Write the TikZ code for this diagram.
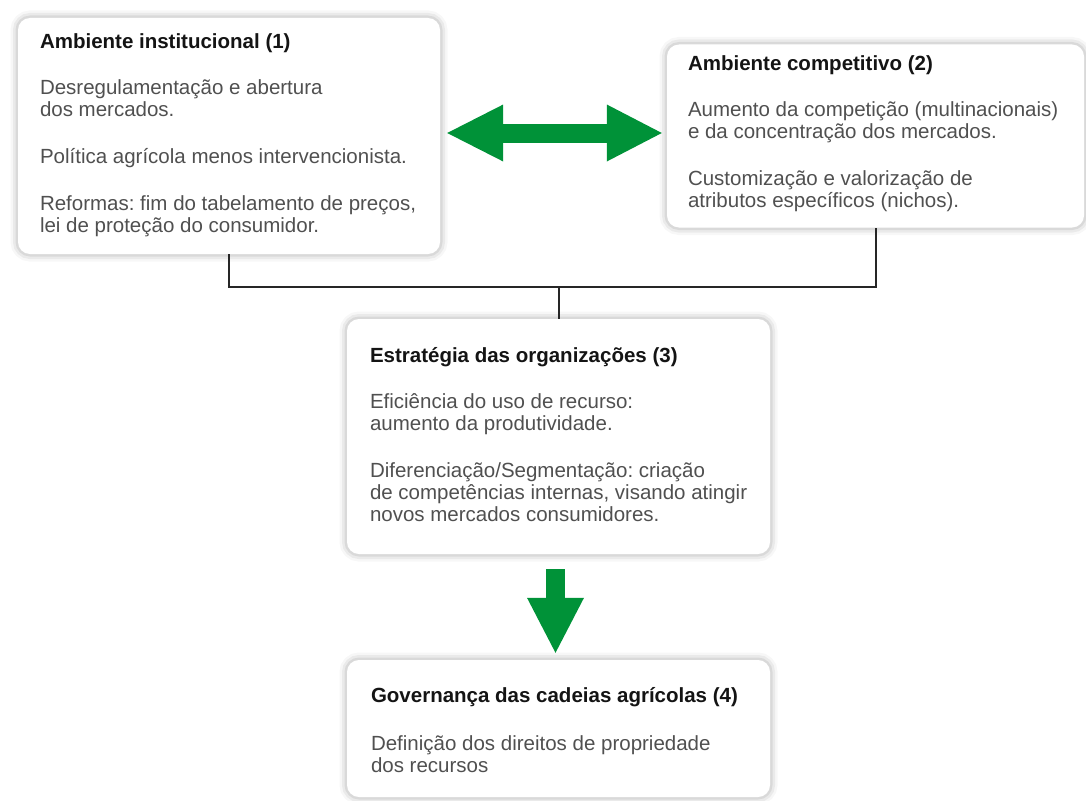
\documentclass[tikz,border=0pt]{standalone}
\usepackage{fontspec}
\setmainfont{Liberation Sans}
\usetikzlibrary{arrows.meta, positioning, calc}
\definecolor{leafgreen}{HTML}{009238}
\definecolor{bodygray}{HTML}{505050}
\definecolor{titleblack}{HTML}{141414}
\newcommand{\paneltitle}[1]{{\color{titleblack}\bfseries #1}}
\frenchspacing

\begin{document}
\begin{tikzpicture}[
    x=1pt, y=-1pt,
    panel/.style={rectangle, fill=white, rounded corners=12pt, inner sep=0pt,
                  preaction={draw=black, draw opacity=0.03, line width=15pt},
                  preaction={draw=black, draw opacity=0.05, line width=10pt},
                  preaction={draw=black, draw opacity=0.07, line width=5pt}},
    paneltext/.style={anchor=north west, align=left, inner sep=0pt, text=bodygray,
                      font=\fontsize{20.5}{22}\selectfont},
    link/.style={draw=black!85, line width=2pt},
    bigarrow/.style={draw=leafgreen, line width=19pt,
                     -{Triangle[length=55pt, width=57pt, line width=0pt]}},
    twoway/.style={bigarrow,
                   {Triangle[length=56pt, width=57pt, line width=0pt]}-{Triangle[length=55pt, width=57pt, line width=0pt]}}
]
    \useasboundingbox (0,0) rectangle (1086,800);

    % panels
    \node[panel, minimum width=422pt, minimum height=236pt] (inst) at (229,136) {};
    \node[panel, minimum width=417pt, minimum height=183pt] (comp) at (875.5,136) {};
    \node[panel, minimum width=423pt, minimum height=235pt] (estr) at (558.5,436.5) {};
    \node[panel, minimum width=423pt, minimum height=137pt] (gov) at (558.5,728.5) {};

    % panel texts
    \node[paneltext] (inst-txt) at ([shift={(22,15.3)}]inst.north west)
        {\paneltitle{Ambiente institucional (1)}\\[24pt]
         Desregulamentação e abertura\\
         dos mercados.\\[25pt]
         Política agrícola menos intervencionista.\\[25pt]
         Reformas: fim do tabelamento de preços,\\
         lei de proteção do consumidor.};
    \node[paneltext] (comp-txt) at ([shift={(21,11.3)}]comp.north west)
        {\paneltitle{Ambiente competitivo (2)}\\[24pt]
         Aumento da competição (multinacionais)\\
         e da concentração dos mercados.\\[25pt]
         Customização e valorização de\\
         atributos específicos (nichos).};
    \node[paneltext] (estr-txt) at ([shift={(23,28.3)}]estr.north west)
        {\paneltitle{Estratégia das organizações (3)}\\[24pt]
         Eficiência do uso de recurso:\\
         aumento da produtividade.\\[25pt]
         Diferenciação/Segmentação: criação\\
         de competências internas, visando atingir\\
         novos mercados consumidores.};
    \node[paneltext] (gov-txt) at ([shift={(24,27.3)}]gov.north west)
        {\paneltitle{Governança das cadeias agrícolas (4)}\\[26pt]
         Definição dos direitos de propriedade\\
         dos recursos};

    % connectors
    \coordinate (bus) at (558.5,287);
    \draw[link] (inst.south) |- (bus) -| (comp.south);
    \draw[link] (bus) -- (estr.north);

    \draw[twoway] ([shift={(7,-3)}]inst.east) -- ([shift={(-5,-3)}]comp.west);
    \draw[bigarrow] ([shift={(-3,15)}]estr.south) -- ([shift={(-3,-7)}]gov.north);
\end{tikzpicture}
\end{document}
